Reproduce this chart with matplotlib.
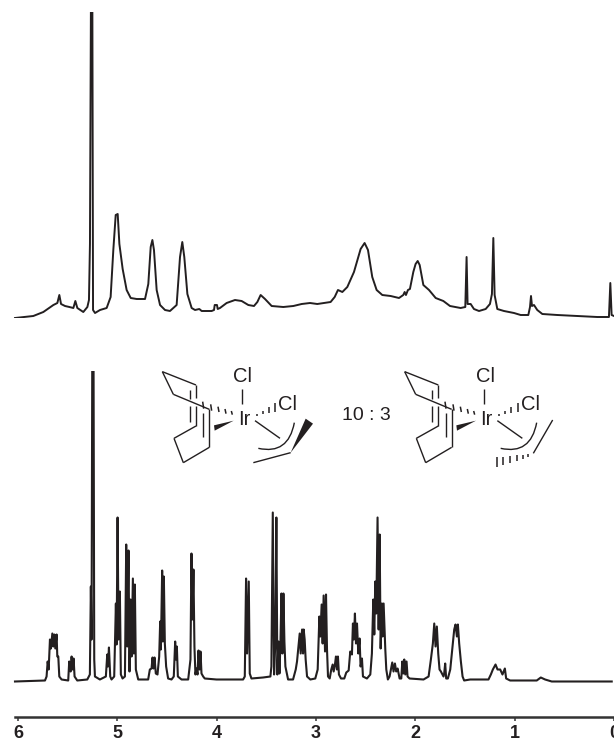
import matplotlib

matplotlib.use("Agg")
import matplotlib.pyplot as plt
from matplotlib.patches import PathPatch, Polygon
from matplotlib.path import Path

plt.rcParams["font.family"] = ["Liberation Sans", "DejaVu Sans"]

INK = "#231f20"

tick_ppm = [6, 5, 4, 3, 2, 1, 0]

# upper spectrum: chemical shift (ppm) and height above its baseline
top_ppm = [
    6.032, 5.848, 5.747, 5.646, 5.606, 5.586, 5.569, 5.529, 5.485, 5.445, 5.425, 5.405, 5.345, 5.304,
    5.288, 5.278, 5.268, 5.254, 5.247, 5.227, 5.177, 5.110, 5.070, 5.043, 5.019, 4.999, 4.982, 4.949,
    4.909, 4.868, 4.808, 4.724, 4.691, 4.667, 4.650, 4.634, 4.607, 4.573, 4.523, 4.473, 4.406, 4.372,
    4.349, 4.329, 4.298, 4.255, 4.221, 4.178, 4.154, 4.054, 4.030, 4.023, 4.000, 3.993, 3.970, 3.903,
    3.819, 3.752, 3.685, 3.628, 3.594, 3.561, 3.517, 3.450, 3.333, 3.232, 3.148, 3.064, 2.991, 2.857,
    2.816, 2.783, 2.739, 2.689, 2.622, 2.555, 2.515, 2.481, 2.438, 2.394, 2.337, 2.253, 2.169, 2.126,
    2.112, 2.099, 2.079, 2.059, 2.025, 2.002, 1.981, 1.961, 1.924, 1.867, 1.800, 1.723, 1.656, 1.549,
    1.502, 1.489, 1.479, 1.448, 1.415, 1.364, 1.297, 1.254, 1.234, 1.220, 1.207, 1.180, 1.113, 1.012,
    0.945, 0.868, 0.851, 0.841, 0.831, 0.811, 0.778, 0.727, 0.576, 0.174, 0.057, 0.043, 0.030, 0.006,
]
top_int = [
    0, 2, 6, 13, 15, 23, 14, 12, 11, 10, 17, 10, 6, 11,
    18, 74, 320, 320, 8, 5, 8, 10, 21, 68, 103, 104, 74, 49,
    28, 20, 19, 19, 34, 71, 78, 68, 28, 13, 8, 7, 13, 61,
    76, 61, 24, 10, 8, 9, 7, 7, 8, 13, 13, 9, 10, 15,
    18, 17, 13, 12, 16, 23, 19, 12, 11, 12, 14, 15, 14, 16,
    21, 28, 26, 31, 46, 69, 75, 68, 41, 28, 23, 22, 20, 23,
    26, 23, 28, 29, 46, 54, 57, 53, 33, 28, 20, 17, 12, 10,
    11, 61, 14, 14, 9, 7, 9, 14, 24, 80, 23, 9, 7, 5,
    3, 3, 11, 22, 12, 13, 8, 4, 3, 1, 1, 35, 3, 2,
]

# lower spectrum
low_ppm = [
    6.032, 5.730, 5.714, 5.703, 5.693, 5.680, 5.670, 5.656, 5.646, 5.636, 5.626, 5.613, 5.606, 5.596,
    5.586, 5.563, 5.496, 5.486, 5.472, 5.462, 5.452, 5.442, 5.432, 5.405, 5.304, 5.278, 5.268, 5.261,
    5.254, 5.241, 5.234, 5.227, 5.177, 5.117, 5.103, 5.096, 5.086, 5.073, 5.060, 5.033, 5.016, 5.009,
    4.999, 4.989, 4.976, 4.966, 4.949, 4.925, 4.912, 4.902, 4.889, 4.879, 4.868, 4.858, 4.845, 4.835,
    4.825, 4.815, 4.791, 4.691, 4.674, 4.657, 4.647, 4.637, 4.627, 4.614, 4.597, 4.580, 4.570, 4.563,
    4.550, 4.543, 4.533, 4.523, 4.510, 4.490, 4.456, 4.433, 4.419, 4.412, 4.402, 4.392, 4.355, 4.288,
    4.265, 4.255, 4.245, 4.235, 4.225, 4.215, 4.204, 4.194, 4.184, 4.174, 4.164, 4.154, 4.137, 4.121,
    4.003, 3.735, 3.718, 3.705, 3.695, 3.678, 3.668, 3.651, 3.534, 3.460, 3.450, 3.436, 3.423, 3.410,
    3.400, 3.390, 3.379, 3.369, 3.359, 3.349, 3.339, 3.329, 3.319, 3.309, 3.282, 3.232, 3.205, 3.192,
    3.178, 3.165, 3.155, 3.141, 3.131, 3.125, 3.115, 3.105, 3.091, 3.058, 3.008, 2.984, 2.967, 2.957,
    2.944, 2.934, 2.924, 2.910, 2.900, 2.890, 2.880, 2.863, 2.847, 2.833, 2.823, 2.810, 2.800, 2.790,
    2.780, 2.770, 2.749, 2.716, 2.696, 2.672, 2.656, 2.639, 2.629, 2.619, 2.609, 2.598, 2.588, 2.575,
    2.562, 2.552, 2.538, 2.528, 2.488, 2.454, 2.438, 2.424, 2.414, 2.404, 2.394, 2.381, 2.370, 2.360,
    2.350, 2.337, 2.330, 2.320, 2.303, 2.293, 2.277, 2.260, 2.246, 2.233, 2.220, 2.206, 2.193, 2.179,
    2.159, 2.142, 2.132, 2.122, 2.112, 2.102, 2.089, 2.079, 2.059, 1.918, 1.867, 1.844, 1.824, 1.810,
    1.797, 1.784, 1.770, 1.757, 1.743, 1.717, 1.710, 1.700, 1.690, 1.673, 1.649, 1.633, 1.609, 1.596,
    1.582, 1.572, 1.559, 1.542, 1.525, 1.509, 1.448, 1.264, 1.240, 1.220, 1.193, 1.173, 1.146, 1.123,
    1.099, 1.086, 1.046, 0.778, 0.737, 0.694, 0.627, 0.023,
]
low_int = [
    0, 1, 5, 20, 12, 42, 33, 48, 35, 47, 33, 47, 25, 25,
    5, 2, 1, 20, 10, 25, 12, 23, 5, 1, 2, 7, 95, 42,
    320, 320, 22, 5, 2, 5, 27, 15, 34, 5, 2, 5, 78, 37,
    164, 42, 90, 7, 3, 5, 137, 35, 131, 10, 82, 25, 103, 28,
    97, 12, 2, 2, 12, 13, 24, 13, 24, 8, 7, 25, 60, 32,
    111, 40, 105, 38, 15, 3, 2, 5, 40, 22, 35, 5, 2, 2,
    22, 128, 62, 112, 35, 7, 13, 7, 31, 12, 30, 8, 5, 3,
    2, 2, 5, 103, 28, 100, 8, 3, 4, 5, 15, 169, 7, 40,
    164, 7, 40, 8, 38, 88, 28, 88, 40, 15, 2, 2, 12, 20,
    35, 48, 28, 52, 28, 52, 42, 22, 5, 2, 3, 12, 65, 45,
    77, 38, 86, 30, 87, 32, 5, 3, 12, 17, 10, 17, 25, 12,
    25, 7, 3, 3, 9, 11, 30, 27, 58, 42, 68, 38, 58, 28,
    43, 15, 23, 5, 3, 7, 28, 82, 47, 100, 68, 164, 52, 147,
    33, 78, 45, 78, 32, 12, 2, 5, 12, 19, 10, 18, 10, 13,
    3, 3, 20, 8, 22, 7, 20, 5, 3, 2, 5, 22, 38, 58,
    35, 55, 28, 12, 10, 5, 8, 18, 3, 3, 12, 28, 52, 57,
    45, 57, 38, 20, 5, 1, 2, 2, 7, 12, 17, 12, 12, 7,
    13, 3, 1, 1, 4, 2, 0, 0,
]

W, H = 614, 742
X_LEFT, X_RIGHT = 6.183, 0.006
fig = plt.figure(figsize=(W / 100, H / 100), dpi=100)

# upper spectrum, clipped at the top of the panel
ax_top = fig.add_axes([0, 1 - 318 / H, 1, 306 / H])
ax_top.plot(top_ppm, top_int, color=INK, lw=1.4, solid_joinstyle="round")
ax_top.set_xlim(X_LEFT, X_RIGHT)
ax_top.set_ylim(0, 306)
ax_top.patch.set_alpha(0)
ax_top.axis("off")
for line in ax_top.lines:
    line.set_clip_on(True)

# lower spectrum, its bottom spine is the ppm axis
ax_low = fig.add_axes([0, 1 - 716.5 / H, 1, 345.5 / H])
ax_low.plot(low_ppm, low_int, color=INK, lw=1.5, solid_joinstyle="round")
ax_low.set_xlim(X_LEFT, X_RIGHT)
ax_low.set_ylim(-35, 310.5)
ax_low.patch.set_alpha(0)
for side in ["top", "left", "right"]:
    ax_low.spines[side].set_visible(False)
ax_low.spines["bottom"].set_linewidth(1.8)
ax_low.spines["bottom"].set_color("#333333")
ax_low.spines["bottom"].set_bounds(6.03, X_RIGHT)
ax_low.set_yticks([])
ax_low.set_xticks(tick_ppm)
ax_low.set_xticklabels([str(t) for t in tick_ppm], fontsize=13, fontweight="bold", color=INK)
ax_low.tick_params(axis="x", length=3, width=1.1, color="#333333", pad=3)

# structures, drawn in a scratch coordinate system
ax_s = fig.add_axes([0, 0, 1, 1])
ax_s.set_xlim(-420, 1422)
ax_s.set_ylim(1176, -1050)
ax_s.axis("off")
ax_s.patch.set_alpha(0)


def seg(x0, y0, x1, y1, dx=0, lw=1.0):
    ax_s.plot([x0 + dx, x1 + dx], [y0, y1], color=INK, lw=lw, solid_capstyle="butt")


def complex_core(dx):
    rings = [
        (67, 65, 168, 105), (168, 105, 168, 145), (67, 65, 100, 133), (100, 133, 208, 178),
        (208, 178, 208, 292), (190, 190, 190, 262), (150, 120, 150, 146), (150, 168, 150, 216),
        (168, 168, 168, 228), (168, 228, 102, 265), (102, 265, 130, 338), (130, 338, 208, 292),
        (305, 118, 305, 162), (345, 212, 420, 265),
    ]
    for r in rings:
        seg(*r, dx=dx)
    # hashed bond ring to Ir
    for x, y0, y1 in [(188, 155, 176), (212, 163, 182), (234, 170, 186), (255, 177, 191), (274, 183, 194)]:
        seg(x, y0, x + 3, y1, dx=dx, lw=1.1)
    # hashed bond Ir to Cl
    for x, y0, y1 in [(350, 192, 197), (369, 182, 192), (387, 172, 190), (406, 160, 186)]:
        seg(x, y0, x, y1, dx=dx, lw=1.1)
    ax_s.add_patch(Polygon([(281 + dx, 212), (222 + dx, 226), (224 + dx, 242)], closed=True, color=INK, lw=0))
    ax_s.text(312 + dx, 208, "Ir", fontsize=14.5, color=INK, ha="center", va="center")
    ax_s.text(308 + dx, 78, "Cl", fontsize=14.5, color=INK, ha="center", va="center")
    ax_s.text(443 + dx, 165, "Cl", fontsize=14.5, color=INK, ha="center", va="center")
    arc = Path([(355 + dx, 295), (445 + dx, 315), (463 + dx, 218)], [Path.MOVETO, Path.CURVE3, Path.CURVE3])
    ax_s.add_patch(PathPatch(arc, fc="none", ec=INK, lw=1.0))


complex_core(0)
complex_core(727)

# left isomer allyl with solid wedge
seg(340, 338, 452, 308)
ax_s.add_patch(Polygon([(452, 308), (497, 206), (519, 221)], closed=True, color=INK, lw=0))

# right isomer allyl with hashed bond
seg(1180, 310, 1238, 210)
for x, y0, y1 in [(1070, 322, 352), (1090, 320, 346), (1110, 318, 340), (1130, 316, 334), (1149, 314, 328), (1165, 312, 322)]:
    seg(x, y0, x, y1, lw=1.1)

ax_s.text(680, 198, "10 : 3", fontsize=14, color=INK, ha="center", va="center")

fig.savefig("out.png", dpi=100)
